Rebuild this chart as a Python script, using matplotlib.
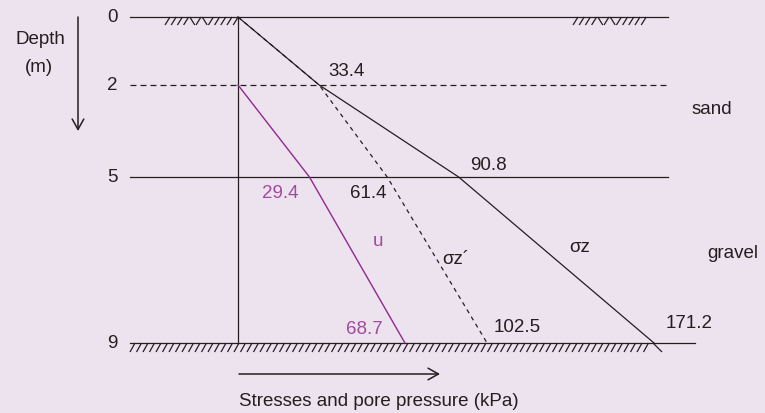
import numpy as np
import matplotlib
matplotlib.use("Agg")
import matplotlib.pyplot as plt
from matplotlib.collections import LineCollection

plt.rcParams["font.family"] = ["Liberation Sans", "DejaVu Sans"]
plt.rcParams["lines.scale_dashes"] = False

INK = "#231f20"
PURPLE = "#93278f"
PURPLE_TXT = "#a04a9e"
BG = "#ede3ef"
FS = 13.5

# layer boundaries (m)
depths = [0, 2, 5, 9]
# total vertical stress sigma_z (kPa) at each boundary
sigma_z = [0, 33.4, 90.8, 171.2]
# effective vertical stress sigma_z' (kPa)
sigma_eff = [0, 33.4, 61.4, 102.5]
# pore pressure below the water table at 2 m
u_depths = [2, 5, 9]
u = [0, 29.4, 68.7]
layers = ["sand", "gravel"]

W, H = 765, 413
# the sketch is not to scale: depth -> pixel row, piecewise
knot_d = [-1, 0, 2, 5, 9, 11]
knot_px = [-16.5, 17, 85, 177, 343, 426]
X0, KX = 238, 2.43  # pixel column of zero stress, pixels per kPa


def fwd(d):
    return np.interp(d, knot_d, knot_px)


def inv(p):
    return np.interp(p, knot_px, knot_d)


fig = plt.figure(figsize=(W / 100, H / 100), dpi=100)
fig.patch.set_facecolor(BG)

ax = fig.add_axes([0, 0, 1, 1])
ax.set_facecolor("none")
ax.set_yscale("function", functions=(fwd, inv))
ax.set_xlim(-X0 / KX, (W - X0) / KX)
ax.set_ylim(inv(H), inv(0))
ax.axis("off")

# layer boundaries
for d in depths:
    xr = 695 if d == depths[-1] else 668
    ls = (0, (4.3, 2.9)) if d == 2 else "-"
    ax.axhline(d, 130 / W, xr / W, color=INK, lw=0.9, ls=ls)
    ax.text(112 / W, d, str(d), transform=ax.get_yaxis_transform(),
            ha="center", va="center", fontsize=FS, color=INK)

# stress profiles
ax.plot([0, 0], [depths[0], depths[-1]], color=INK, lw=0.9)
ax.plot(sigma_z, depths, color=INK, lw=0.9)
ax.plot(sigma_eff, depths, color=INK, lw=0.9, ls=(0, (3, 3)))
ax.plot(u, u_depths, color=PURPLE, lw=1.0)


def label(val, d, txt, dx, dy, color=INK):
    ax.annotate(txt, (val, d), xytext=(dx, dy), textcoords="offset pixels",
                ha="center", va="center", fontsize=FS, color=color)


label(sigma_z[1], depths[1], f"{sigma_z[1]}", 27, 13)
label(sigma_z[2], depths[2], f"{sigma_z[2]}", 30, 11)
label(sigma_z[3], depths[3], f"{sigma_z[3]}", 35, 20)
label(sigma_eff[2], depths[2], f"{sigma_eff[2]}", -19, -16)
label(sigma_eff[3], depths[3], f"{sigma_eff[3]}", 30, 16)
label(u[1], u_depths[1], f"{u[1]}", -29, -16, PURPLE_TXT)
label(u[2], u_depths[2], f"{u[2]}", -41, 14, PURPLE_TXT)

# curve names, anchored mid-way down the gravel layer
mid = (depths[2] + depths[3]) / 2
label((u[1] + u[2]) / 2, mid, "u", 21, 19, PURPLE_TXT)
label((sigma_eff[2] + sigma_eff[3]) / 2, mid, "σz´", 19, 0)
label((sigma_z[2] + sigma_z[3]) / 2, mid, "σz", 23, 13)

# overlay in pixel units for the sketch decorations
ov = fig.add_axes([0, 0, 1, 1])
ov.set_xlim(0, W)
ov.set_ylim(H, 0)
ov.axis("off")
ov.patch.set_alpha(0)


def ground(x0, pattern, y, step=6.2, h=8, lean=5):
    segs = []
    for i, ch in enumerate(pattern):
        x = x0 + i * step
        if ch == "/":
            segs.append([(x, y + h), (x + lean, y)])
        else:
            segs.append([(x, y), (x + lean, y + h)])
    ov.add_collection(LineCollection(segs, colors=INK, linewidths=0.9))


y0, y9 = fwd(depths[0]), fwd(depths[-1])
ground(165, "////\\/\\/////", y0)
ground(573, "////\\/\\/////", y0)
n = int((655 - 130) / 6.5)
ground(130, "/" * n, y9, step=6.5, h=9)
ground(653, "\\", y9, h=9, lean=9)

arrow = dict(arrowstyle="->,head_length=0.75,head_width=0.42", color=INK,
             lw=1.1, shrinkA=0, shrinkB=0, mutation_scale=10)
ov.annotate("", xy=(78, 131), xytext=(78, 17), arrowprops=arrow)
ov.annotate("", xy=(440, 374), xytext=(239, 374), arrowprops=arrow)

txt = dict(fontsize=FS, color=INK, va="center")
ov.text(40, 40, "Depth", ha="center", **txt)
ov.text(39, 68, "(m)", ha="center", **txt)
ov.text(712, 110, layers[0], ha="center", **txt)
ov.text(707, 254, layers[1], ha="left", **txt)
ov.text(379, 402, "Stresses and pore pressure (kPa)", ha="center", **txt)

fig.savefig("out.png", dpi=100, facecolor=BG)
